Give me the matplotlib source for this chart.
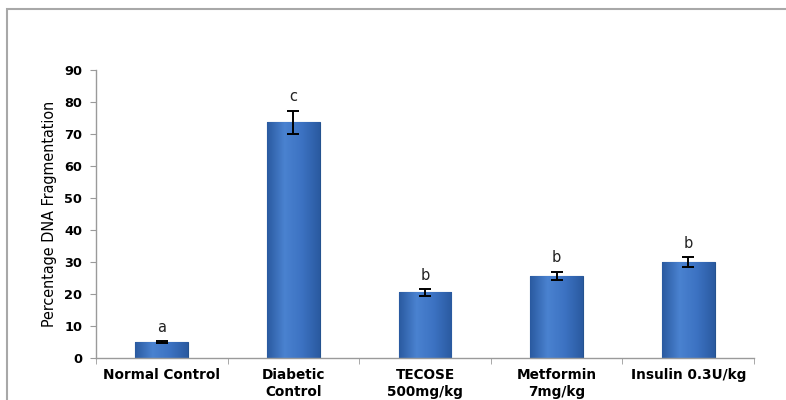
import numpy as np
import matplotlib
matplotlib.use("Agg")
import matplotlib.pyplot as plt
from matplotlib.colors import LinearSegmentedColormap
from matplotlib.patches import Rectangle

categories = ["Normal Control", "Diabetic\nControl", "TECOSE\n500mg/kg", "Metformin\n7mg/kg", "Insulin 0.3U/kg"]
values = [5.0, 73.6, 20.5, 25.7, 29.9]
errors = [0.3, 3.7, 1.0, 1.3, 1.6]
letters = ["a", "c", "b", "b", "b"]
yticks = [0, 10, 20, 30, 40, 50, 60, 70, 80, 90]

fig = plt.figure(figsize=(7.86, 4.0), dpi=100)
fig.patch.set_facecolor("white")

# outer frame
fig.add_artist(Rectangle((7 / 786, -0.1), 1.1, 1 - 9 / 400 + 0.1, transform=fig.transFigure,
                         fill=False, edgecolor="#a8a8a8", linewidth=1.5))

ax = fig.add_axes([96 / 786, 1 - 358 / 400, (754 - 96) / 786, (358 - 70) / 400])
x = np.arange(len(categories))
bars = ax.bar(x, values, width=0.4, color="#3a6fc0", edgecolor="#24528f", linewidth=0.8, zorder=2)

# shaded bar faces
shade = LinearSegmentedColormap.from_list("shade", ["#2a5aa0", "#4a82d0", "#3c72c2", "#2a5aa0"])
grad = np.linspace(0, 1, 256).reshape(1, -1)
for b in bars:
    im = ax.imshow(grad, extent=[b.get_x(), b.get_x() + b.get_width(), 0, b.get_height()],
                   aspect="auto", cmap=shade, zorder=2.5)
    im.set_clip_path(b)

ax.errorbar(x, values, yerr=errors, fmt="none", ecolor="black", elinewidth=1.4,
            capsize=4, capthick=1.4, zorder=3)

for xi, v, e, t in zip(x, values, errors, letters):
    ax.text(xi, v + e + 2.0, t, ha="center", va="bottom", fontsize=10.5, color="#222222")

ax.set_xlim(-0.5, len(categories) - 0.5)
ax.set_ylim(0, 90)
ax.set_yticks(yticks)
ax.set_xticks(x)
ax.set_xticklabels(categories, fontsize=9.8, fontweight="bold", linespacing=1.3)
ax.set_xticks(np.arange(len(categories) + 1) - 0.5, minor=True)
ax.tick_params(axis="x", which="major", length=0, pad=7)
ax.tick_params(axis="x", which="minor", length=4, color="#9a9a9a", direction="out")
ax.tick_params(axis="y", length=4, color="#9a9a9a", labelsize=9.3, pad=6)
for lab in ax.get_yticklabels():
    lab.set_fontweight("bold")

for s in ["top", "right"]:
    ax.spines[s].set_visible(False)
for s in ["left", "bottom"]:
    ax.spines[s].set_color("#9a9a9a")
    ax.spines[s].set_linewidth(1.0)

ax.set_ylabel("Percentage DNA Fragmentation", fontsize=11.5, fontstretch="condensed",
              family=["DejaVu Sans"], labelpad=5)

fig.savefig("out.png", dpi=100)
